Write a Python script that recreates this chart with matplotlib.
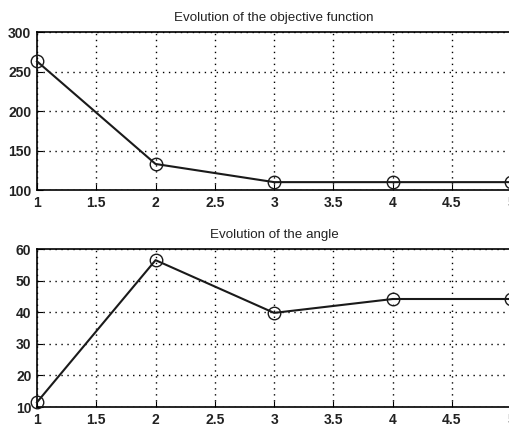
import matplotlib
matplotlib.use("Agg")
import matplotlib.pyplot as plt

plt.rcParams["font.family"] = ["Liberation Sans", "DejaVu Sans"]

iterations = [1, 2, 3, 4, 5]
objective = [263, 133, 110, 110, 110]
angle = [11.5, 56.5, 39.8, 44.2, 44.2]

xticks = [1, 1.5, 2, 2.5, 3, 3.5, 4, 4.5, 5]
xtick_labels = ["1", "1.5", "2", "2.5", "3", "3.5", "4", "4.5", "5"]
obj_ticks = [100, 150, 200, 250, 300]
angle_ticks = [10, 20, 30, 40, 50, 60]

fig = plt.figure(figsize=(5.10, 4.28), dpi=100)
ax1 = fig.add_axes([0.0725, 0.556, 0.93, 0.369])
ax2 = fig.add_axes([0.0725, 0.049, 0.93, 0.369])


def style(ax, y, yticks, title):
    ax.plot(iterations, y, color="#1a1a1a", lw=1.5, marker="o", ms=9,
            mfc="none", mec="#1a1a1a", mew=1.0, clip_on=False, zorder=3)
    ax.set_xlim(1, 5)
    ax.set_ylim(yticks[0], yticks[-1])
    ax.set_xticks(xticks)
    ax.set_xticklabels(xtick_labels)
    ax.set_yticks(yticks)
    ax.grid(True, color="black", ls=(0, (1, 3.3)), lw=1.0)
    ax.tick_params(direction="in", length=4, labelsize=10, pad=4)
    for lab in ax.get_xticklabels() + ax.get_yticklabels():
        lab.set_fontweight("bold")
        lab.set_color("#222222")
    for s in ax.spines.values():
        s.set_linewidth(1.2)
    ax.set_title(title, fontsize=9.6, pad=8, color="#222222")


style(ax1, objective, obj_ticks, "Evolution of the objective function")
style(ax2, angle, angle_ticks, "Evolution of the angle")

fig.savefig("out.png", dpi=100)
